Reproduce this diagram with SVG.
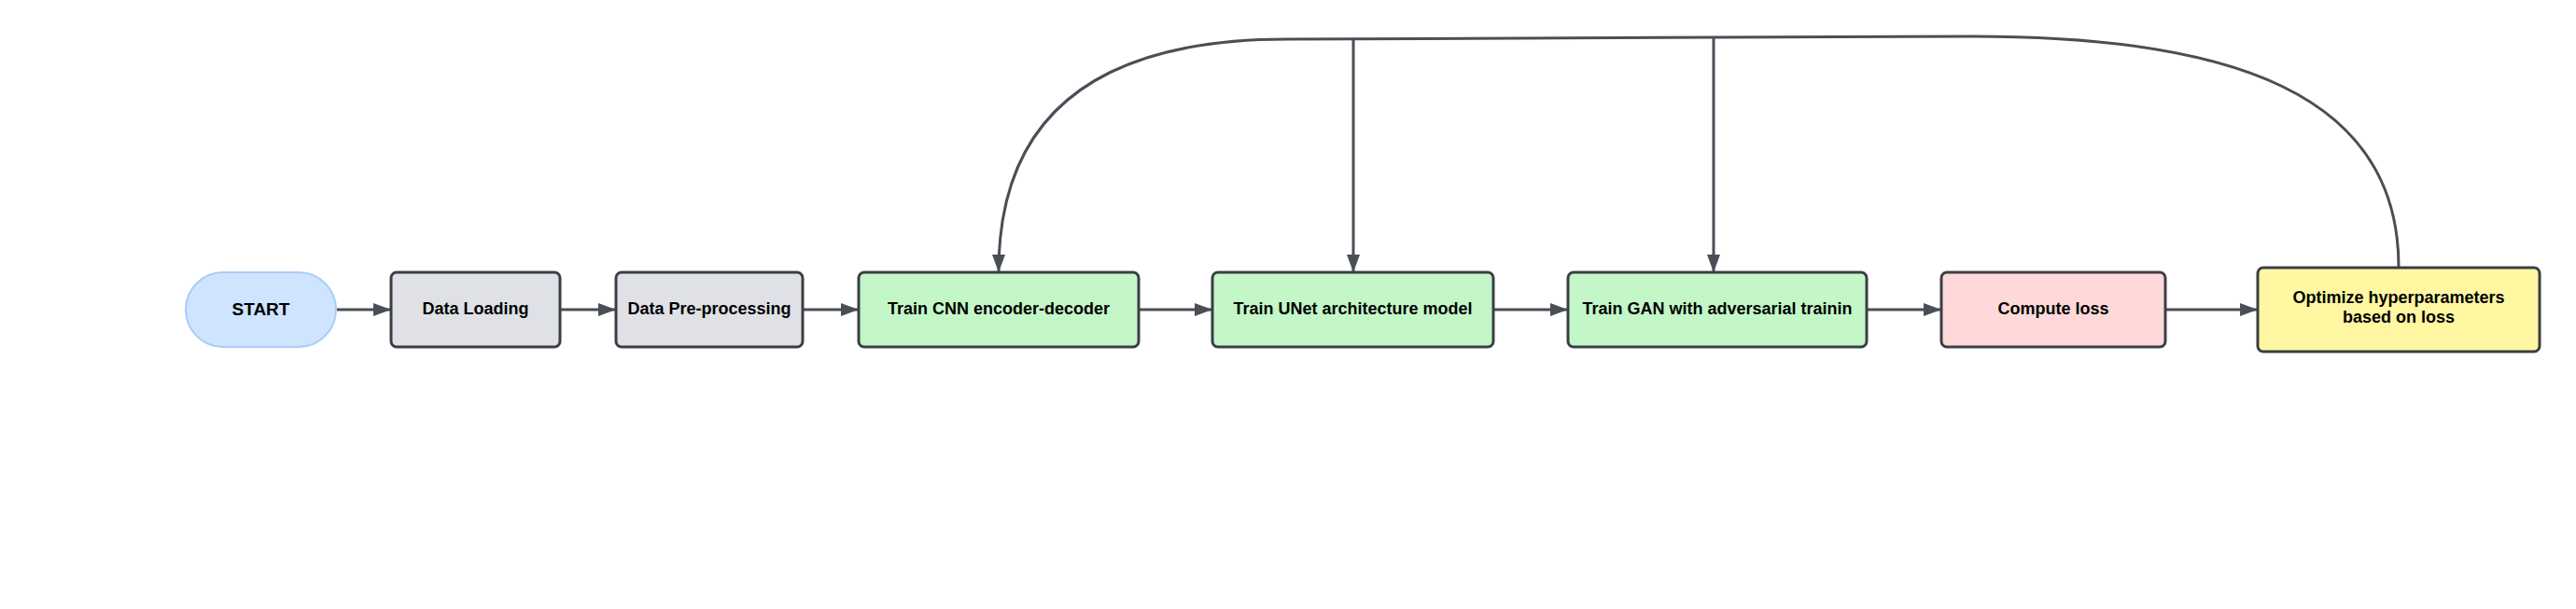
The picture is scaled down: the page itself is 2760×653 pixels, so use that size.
<svg xmlns="http://www.w3.org/2000/svg" width="2760" height="653" viewBox="0 0 2760 653">
<style>
.box{stroke:#3b3e44;stroke-width:3}
.gray{fill:#dfe1e6}
.green{fill:#c3f7c8}
.pink{fill:#ffd9d9}
.yellow{fill:#fff7a1}
.lbl{font-family:"Liberation Sans",Arial,sans-serif;font-weight:bold;font-size:18px;fill:#000;text-anchor:middle}
.edge{fill:none;stroke:#4a4e56;stroke-width:3}
</style>
<defs>
<marker id="arr" viewBox="0 0 19 14" refX="18" refY="7" markerWidth="19" markerHeight="14" markerUnits="userSpaceOnUse" orient="auto">
<path d="M0,0 L19,7 L0,14 Z" fill="#4a4e56"/>
</marker>
</defs>
<rect width="2760" height="653" fill="#ffffff"/>
<g id="connectors">
<path class="edge" marker-end="url(#arr)" d="M361,332 L418,332"/>
<path class="edge" marker-end="url(#arr)" d="M601,332 L659,332"/>
<path class="edge" marker-end="url(#arr)" d="M861,332 L919,332"/>
<path class="edge" marker-end="url(#arr)" d="M1221,332 L1298,332"/>
<path class="edge" marker-end="url(#arr)" d="M1601,332 L1679,332"/>
<path class="edge" marker-end="url(#arr)" d="M2001,332 L2079,332"/>
<path class="edge" marker-end="url(#arr)" d="M2321,332 L2418,332"/>
<path class="edge" marker-end="url(#arr)" d="M2570,286 C2570,100 2390,39 2114,39 L1379,42 C1180,42 1070,120 1070,291"/>
<path class="edge" marker-end="url(#arr)" d="M1450,41 L1450,291"/>
<path class="edge" marker-end="url(#arr)" d="M1836,40 L1836,291"/>
</g>
<g id="start">
<rect x="199" y="292" width="161" height="80" rx="40" ry="40" fill="#cfe4fe" stroke="#a9cdf6" stroke-width="2"/>
<text class="lbl" x="279.5" y="337.5" style="font-size:19px">START</text>
</g>
<g id="data-loading">
<rect class="box gray" x="419" y="292" width="181" height="80" rx="6"/>
<text class="lbl" x="509.5" y="336.5">Data Loading</text>
</g>
<g id="data-preprocessing">
<rect class="box gray" x="660" y="292" width="200" height="80" rx="6"/>
<text class="lbl" x="760" y="336.5">Data Pre-processing</text>
</g>
<g id="train-cnn">
<rect class="box green" x="920" y="292" width="300" height="80" rx="6"/>
<text class="lbl" x="1070" y="336.5">Train CNN encoder-decoder</text>
</g>
<g id="train-unet">
<rect class="box green" x="1299" y="292" width="301" height="80" rx="6"/>
<text class="lbl" x="1449.5" y="336.5">Train UNet architecture model</text>
</g>
<g id="train-gan">
<rect class="box green" x="1680" y="292" width="320" height="80" rx="6"/>
<text class="lbl" x="1840" y="336.5">Train GAN with adversarial trainin</text>
</g>
<g id="compute-loss">
<rect class="box pink" x="2080" y="292" width="240" height="80" rx="6"/>
<text class="lbl" x="2200" y="336.5">Compute loss</text>
</g>
<g id="optimize">
<rect class="box yellow" x="2419" y="287" width="302" height="90" rx="6"/>
<text class="lbl" x="2570" y="325">Optimize hyperparameters</text>
<text class="lbl" x="2570" y="346">based on loss</text>
</g>
</svg>
